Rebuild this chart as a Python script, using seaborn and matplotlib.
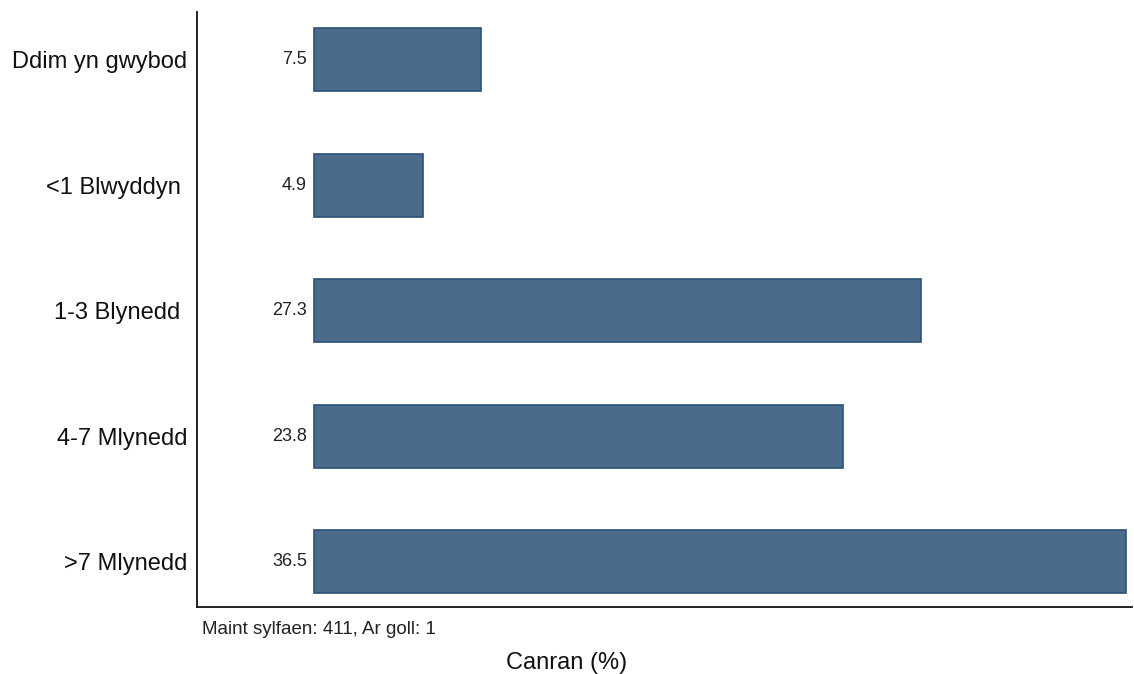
import matplotlib
matplotlib.use("Agg")
import matplotlib.pyplot as plt
import seaborn as sns
import pandas as pd

categories = ["Ddim yn gwybod", "<1 Blwyddyn ", "1-3 Blynedd ", "4-7 Mlynedd", ">7 Mlynedd"]
values = [7.5, 4.9, 27.3, 23.8, 36.5]
value_labels = ["7.5", "4.9", "27.3", "23.8", "36.5"]

sns.set_theme(style="white")
plt.rcParams['font.family'] = ['Liberation Sans', 'DejaVu Sans']

df = pd.DataFrame({"cat": categories, "val": values})

fig = plt.figure(figsize=(11.34, 6.74), dpi=100)
ax = fig.add_axes([0.1737, 0.0994, 0.8245, 0.8826])

sns.barplot(data=df, x="val", y="cat", orient="h", width=0.5,
            color="#4a6b8a", saturation=1, edgecolor="#2c5278", linewidth=1.2, ax=ax)

for i, (v, lab) in enumerate(zip(values, value_labels)):
    ax.annotate(lab, xy=(0, i), xytext=(-5, 0), textcoords="offset points",
                ha="right", va="center", fontsize=13, color="#222222")

ax.set_xlim(-5.26, 36.77)
ax.set_ylim(4.36, -0.38)
ax.set_xticks([])
ax.set_xlabel("")
ax.set_ylabel("")
ax.tick_params(axis="y", length=0, pad=7, labelsize=17, labelcolor="#111111")
for s in ["top", "right"]:
    ax.spines[s].set_visible(False)
for s in ["left", "bottom"]:
    ax.spines[s].set_color("#111111")
    ax.spines[s].set_linewidth(1.3)

fig.text(202 / 1134, 1 - 630 / 674, "Maint sylfaen: 411, Ar goll: 1",
         ha="left", va="center", fontsize=13.5, color="#222222")
fig.text(0.5, 1 - 663 / 674, "Canran (%)",
         ha="center", va="center", fontsize=17, color="#111111")

fig.savefig("out.png", dpi=100)
